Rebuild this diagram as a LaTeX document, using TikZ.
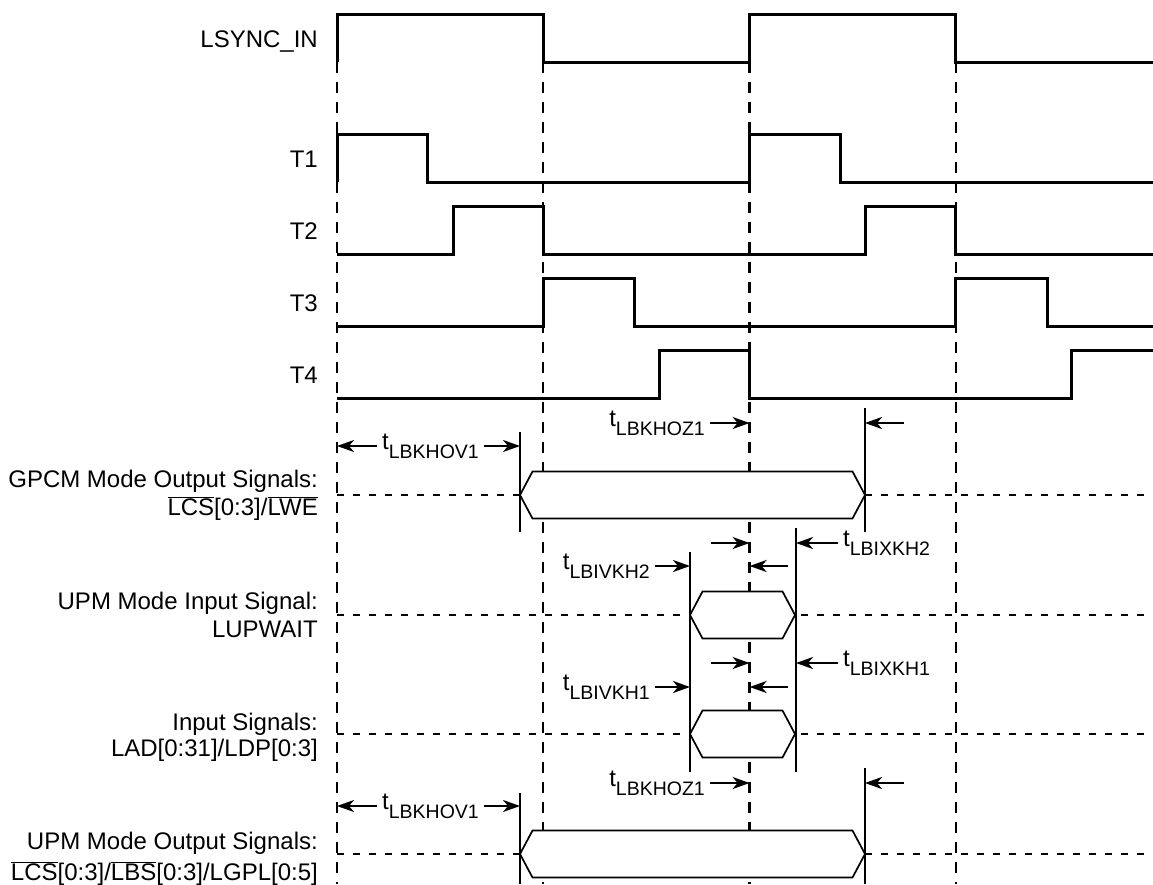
\documentclass[tikz,border=0pt]{standalone}
\usepackage{fontspec}
\setmainfont{Liberation Sans}
\usepackage{tikz}
\usetikzlibrary{arrows.meta, positioning, calc}

\tikzset{
    signal/.style={line width=3pt, line join=miter},
    edgeline/.style={line width=2.3pt, dash pattern=on 11pt off 9pt},
    gridline/.style={line width=2pt, dash pattern=on 7pt off 9pt},
    refline/.style={line width=2.2pt},
    busval/.style={line width=1.7pt, fill=white},
    dimarrow/.style={line width=2.2pt, -{Stealth[length=17pt, width=12pt, inset=5pt]}},
    siglabel/.style={anchor=base east, inner sep=0pt, font=\fontsize{24}{28}\selectfont},
    tlabel/.style={inner xsep=5pt, inner ysep=0pt, font=\fontsize{24}{28}\selectfont}
}
\newcommand{\tparam}[1]{t\raisebox{-9pt}{\fontsize{19.5}{19.5}\selectfont #1}}
\newcommand{\ovl}[1]{$\overline{\hbox{#1}}$}

\begin{document}
\begin{tikzpicture}[x=1pt, y=-1pt]
    \useasboundingbox (0,0) rectangle (1153,884);

    % Clock edges and reference lines
    \coordinate (k0) at (337,0);
    \coordinate (k1) at (543.3,0);
    \coordinate (k2) at (749.6,0);
    \coordinate (k3) at (955.9,0);
    \coordinate (ov) at (520,0);
    \coordinate (oz) at (865,0);
    \coordinate (iv) at (690,0);
    \coordinate (ix) at (796,0);

    \foreach \x in {337, 543.3, 749.6, 955.9} {
        \draw[edgeline] (\x,62) -- (\x,884);
    }
    \foreach \y in {495, 615, 734, 854} {
        \draw[gridline] (337,\y) -- (1153,\y);
    }

    % Bus values
    \foreach \xa/\xb/\ym in {520/865/495, 690/795/615, 690/795/734, 520/865/854} {
        \draw[busval] (\xa,\ym) -- (\xa+12.5,\ym-23.5) -- (\xb-12.5,\ym-23.5) -- (\xb,\ym)
            -- (\xb-12.5,\ym+23.5) -- (\xa+12.5,\ym+23.5) -- cycle;
    }

    % Waveforms
    \draw[signal] (337,62) -- (337,14) -- (543.3,14) -- (543.3,62) -- (749.6,62) -- (749.6,14)
        -- (955.9,14) -- (955.9,62) -- (1153,62);
    \draw[signal] (337,182) -- (337,134) -- (427,134) -- (427,182) -- (749.6,182) -- (749.6,134)
        -- (840.7,134) -- (840.7,182) -- (1153,182);
    \draw[signal] (337,254) -- (453,254) -- (453,206) -- (543.3,206) -- (543.3,254) -- (865.7,254)
        -- (865.7,206) -- (955.9,206) -- (955.9,254) -- (1153,254);
    \draw[signal] (337,326) -- (543.3,326) -- (543.3,278) -- (634,278) -- (634,326) -- (955.9,326)
        -- (955.9,278) -- (1047.3,278) -- (1047.3,326) -- (1153,326);
    \draw[signal] (337,398) -- (659,398) -- (659,350) -- (749.6,350) -- (749.6,398) -- (1071.7,398)
        -- (1071.7,350) -- (1153,350);

    % Signal names
    \node[siglabel] (lsync) at (318,47.5) {LSYNC\_IN};
    \node[siglabel] (tone) at (318,167) {T1};
    \node[siglabel] (ttwo) at (318,239) {T2};
    \node[siglabel] (tthree) at (318,311) {T3};
    \node[siglabel] (tfour) at (318,383) {T4};
    \node[siglabel] (gpcmA) at (318,487) {GPCM Mode Output Signals:};
    \node[siglabel] (gpcmB) at (318,515) {\ovl{LCS}[0:3]/\ovl{LWE}};
    \node[siglabel] (upmiA) at (318,609) {UPM Mode Input Signal:};
    \node[siglabel] (upmiB) at (318,637) {LUPWAIT};
    \node[siglabel] (inA) at (318,730) {Input Signals:};
    \node[siglabel] (inB) at (318,756) {LAD[0:31]/LDP[0:3]};
    \node[siglabel] (upmoA) at (318,849) {UPM Mode Output Signals:};
    \node[siglabel] (upmoB) at (318,880) {\ovl{LCS}[0:3]/\ovl{LBS}[0:3]/LGPL[0:5]};

    % Timing reference lines
    \draw[refline] (520,432) -- (520,532);
    \draw[refline] (865,408) -- (865,532);
    \draw[refline] (796,528) -- (796,772);
    \draw[refline] (690,552) -- (690,772);
    \draw[refline] (520,793) -- (520,884);
    \draw[refline] (865,768) -- (865,884);

    % GPCM output timing
    \node[tlabel, anchor=west] (hovA) at (377,446) {\tparam{LBKHOV1}};
    \draw[dimarrow] (hovA.west) -- (hovA.west -| k0);
    \draw[dimarrow] (hovA.east) -- (hovA.east -| ov);
    \node[tlabel, anchor=east] (hozA) at (710,423) {\tparam{LBKHOZ1}};
    \draw[dimarrow] (hozA.east) -- (hozA.east -| k2);
    \draw[dimarrow] ($(oz |- hozA)+(39,0)$) -- (oz |- hozA);

    % LUPWAIT setup and hold
    \node[tlabel, anchor=west] (ixB) at (838,543) {\tparam{LBIXKH2}};
    \draw[dimarrow] (ixB.west) -- (ixB.west -| ix);
    \draw[dimarrow] ($(k2 |- ixB)+(-39,0)$) -- (k2 |- ixB);
    \node[tlabel, anchor=east] (ivB) at (655,566) {\tparam{LBIVKH2}};
    \draw[dimarrow] (ivB.east) -- (ivB.east -| iv);
    \draw[dimarrow] ($(k2 |- ivB)+(38,0)$) -- (k2 |- ivB);

    % Input setup and hold
    \node[tlabel, anchor=west] (ixA) at (838,663) {\tparam{LBIXKH1}};
    \draw[dimarrow] (ixA.west) -- (ixA.west -| ix);
    \draw[dimarrow] ($(k2 |- ixA)+(-39,0)$) -- (k2 |- ixA);
    \node[tlabel, anchor=east] (ivA) at (655,687) {\tparam{LBIVKH1}};
    \draw[dimarrow] (ivA.east) -- (ivA.east -| iv);
    \draw[dimarrow] ($(k2 |- ivA)+(38,0)$) -- (k2 |- ivA);

    % UPM output timing
    \node[tlabel, anchor=east] (hozB) at (710,783) {\tparam{LBKHOZ1}};
    \draw[dimarrow] (hozB.east) -- (hozB.east -| k2);
    \draw[dimarrow] ($(oz |- hozB)+(39,0)$) -- (oz |- hozB);
    \node[tlabel, anchor=west] (hovB) at (377,806) {\tparam{LBKHOV1}};
    \draw[dimarrow] (hovB.west) -- (hovB.west -| k0);
    \draw[dimarrow] (hovB.east) -- (hovB.east -| ov);
\end{tikzpicture}
\end{document}
